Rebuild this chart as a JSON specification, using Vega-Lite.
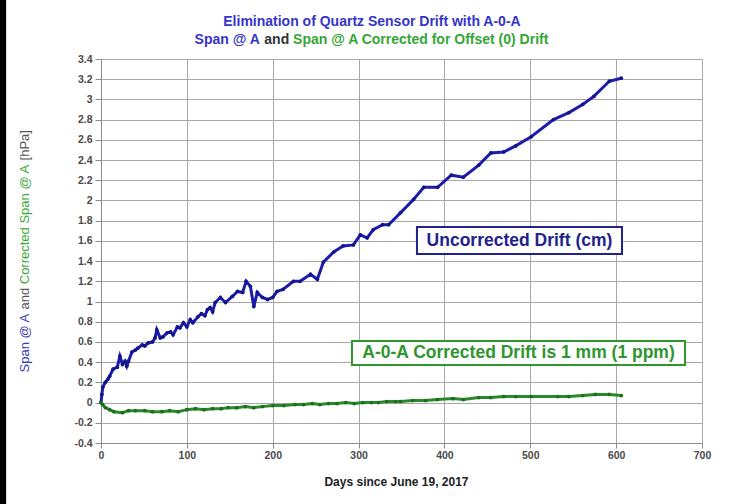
{
  "$schema": "https://vega.github.io/schema/vega-lite/v6.json",
  "width": 601,
  "height": 384,
  "autosize": {"type": "none"},
  "padding": {"left": 101, "top": 59, "right": 33, "bottom": 61},
  "background": "white",
  "config": {
    "font": "Liberation Sans",
    "view": {"stroke": "#8c8c8c", "strokeWidth": 1}
  },
  "resolve": {"axis": {"x": "independent", "y": "independent"}},
  "datasets": {
    "span": [
      {"day": 0, "value": 0}, {"day": 1, "value": 0.08}, {"day": 2, "value": 0.15}, {"day": 5, "value": 0.2},
      {"day": 8, "value": 0.23}, {"day": 10, "value": 0.26}, {"day": 14, "value": 0.33}, {"day": 19, "value": 0.35},
      {"day": 22, "value": 0.46}, {"day": 25, "value": 0.38}, {"day": 28, "value": 0.41}, {"day": 30, "value": 0.36},
      {"day": 32, "value": 0.41}, {"day": 36, "value": 0.5}, {"day": 40, "value": 0.52}, {"day": 43, "value": 0.54},
      {"day": 48, "value": 0.57}, {"day": 51, "value": 0.56}, {"day": 55, "value": 0.59}, {"day": 60, "value": 0.6},
      {"day": 63, "value": 0.64}, {"day": 65, "value": 0.72}, {"day": 69, "value": 0.64}, {"day": 72, "value": 0.65},
      {"day": 77, "value": 0.69}, {"day": 81, "value": 0.7}, {"day": 84, "value": 0.67}, {"day": 89, "value": 0.75},
      {"day": 92, "value": 0.74}, {"day": 96, "value": 0.79}, {"day": 100, "value": 0.75}, {"day": 104, "value": 0.82},
      {"day": 107, "value": 0.79}, {"day": 113, "value": 0.85}, {"day": 117, "value": 0.88}, {"day": 121, "value": 0.86},
      {"day": 124, "value": 0.92}, {"day": 127, "value": 0.94}, {"day": 130, "value": 0.9}, {"day": 133, "value": 0.99},
      {"day": 139, "value": 1.04}, {"day": 145, "value": 0.99}, {"day": 153, "value": 1.05}, {"day": 159, "value": 1.1},
      {"day": 165, "value": 1.09}, {"day": 169, "value": 1.2}, {"day": 174, "value": 1.15}, {"day": 178, "value": 0.95},
      {"day": 182, "value": 1.09}, {"day": 188, "value": 1.04}, {"day": 194, "value": 1.02}, {"day": 200, "value": 1.04},
      {"day": 205, "value": 1.1}, {"day": 212, "value": 1.12}, {"day": 224, "value": 1.2}, {"day": 232, "value": 1.2},
      {"day": 244, "value": 1.27}, {"day": 252, "value": 1.22}, {"day": 259, "value": 1.39}, {"day": 271, "value": 1.49},
      {"day": 282, "value": 1.55}, {"day": 294, "value": 1.56}, {"day": 302, "value": 1.66}, {"day": 310, "value": 1.63},
      {"day": 317, "value": 1.71}, {"day": 328, "value": 1.76}, {"day": 335, "value": 1.76}, {"day": 349, "value": 1.88},
      {"day": 364, "value": 2.01}, {"day": 376, "value": 2.13}, {"day": 392, "value": 2.13}, {"day": 408, "value": 2.25},
      {"day": 422, "value": 2.23}, {"day": 440, "value": 2.35}, {"day": 454, "value": 2.47}, {"day": 469, "value": 2.48},
      {"day": 483, "value": 2.54}, {"day": 501, "value": 2.63}, {"day": 527, "value": 2.8}, {"day": 545, "value": 2.87},
      {"day": 561, "value": 2.95}, {"day": 574, "value": 3.03}, {"day": 592, "value": 3.18}, {"day": 606, "value": 3.21}
    ],
    "corrected": [
      {"day": 0, "value": 0}, {"day": 2, "value": -0.02}, {"day": 5, "value": -0.05}, {"day": 10, "value": -0.07},
      {"day": 15, "value": -0.09}, {"day": 25, "value": -0.1}, {"day": 32, "value": -0.08}, {"day": 40, "value": -0.08},
      {"day": 51, "value": -0.08}, {"day": 60, "value": -0.09}, {"day": 71, "value": -0.09}, {"day": 80, "value": -0.08},
      {"day": 90, "value": -0.09}, {"day": 100, "value": -0.07}, {"day": 110, "value": -0.06}, {"day": 120, "value": -0.07},
      {"day": 130, "value": -0.06}, {"day": 140, "value": -0.06}, {"day": 148, "value": -0.05}, {"day": 158, "value": -0.05},
      {"day": 168, "value": -0.04}, {"day": 178, "value": -0.05}, {"day": 188, "value": -0.04}, {"day": 200, "value": -0.03},
      {"day": 213, "value": -0.03}, {"day": 226, "value": -0.02}, {"day": 236, "value": -0.02}, {"day": 246, "value": -0.01},
      {"day": 255, "value": -0.02}, {"day": 265, "value": -0.01}, {"day": 275, "value": -0.01}, {"day": 285, "value": 0},
      {"day": 295, "value": -0.01}, {"day": 305, "value": 0}, {"day": 315, "value": 0}, {"day": 323, "value": 0},
      {"day": 333, "value": 0.01}, {"day": 343, "value": 0.01}, {"day": 349, "value": 0.01}, {"day": 363, "value": 0.02},
      {"day": 378, "value": 0.02}, {"day": 392, "value": 0.03}, {"day": 410, "value": 0.04}, {"day": 422, "value": 0.03},
      {"day": 440, "value": 0.05}, {"day": 454, "value": 0.05}, {"day": 469, "value": 0.06}, {"day": 483, "value": 0.06},
      {"day": 501, "value": 0.06}, {"day": 532, "value": 0.06}, {"day": 545, "value": 0.06}, {"day": 561, "value": 0.07},
      {"day": 576, "value": 0.08}, {"day": 592, "value": 0.08}, {"day": 606, "value": 0.07}
    ]
  },
  "layer": [
    {
      "data": {"name": "span"},
      "mark": {"type": "line", "color": "#1c1cab", "strokeWidth": 3, "point": {"filled": true, "size": 14, "color": "#14148a"}},
      "encoding": {
        "x": {
          "field": "day", "type": "quantitative",
          "scale": {"domain": [0, 700], "nice": false, "zero": false},
          "axis": {
            "values": [0, 100, 200, 300, 400, 500, 600, 700],
            "title": "Days since June 19, 2017",
            "titleFont": "Liberation Sans", "titleFontWeight": "bold", "titleFontSize": 12, "titleColor": "#222",
            "titleX": 295, "titleY": 38, "titleBaseline": "middle",
            "grid": true, "gridColor": "#a8a8a8", "gridWidth": 1,
            "domainColor": "#8c8c8c", "tickColor": "#8c8c8c", "tickSize": 5,
            "labelFlush": false, "labelOverlap": false,
            "labelFontSize": 10.5, "labelFontWeight": "bold", "labelColor": "#4a4a4a", "labelPadding": 2
          }
        },
        "y": {
          "field": "value", "type": "quantitative",
          "scale": {"domain": [-0.4, 3.4], "nice": false, "zero": false},
          "axis": {
            "values": [-0.4, -0.2, 0, 0.2, 0.4, 0.6, 0.8, 1, 1.2, 1.4, 1.6, 1.8, 2, 2.2, 2.4, 2.6, 2.8, 3, 3.2, 3.4],
            "labelExpr": "replace(format(datum.value, '.2~f'), '−', '-')",
            "title": null,
            "grid": true, "gridColor": "#a8a8a8", "gridWidth": 1,
            "domainColor": "#8c8c8c", "tickColor": "#8c8c8c", "tickSize": 6,
            "labelFlush": false, "labelOverlap": false,
            "labelFontSize": 10.5, "labelFontWeight": "bold", "labelColor": "#4a4a4a", "labelPadding": 3
          }
        }
      }
    },
    {
      "data": {"name": "corrected"},
      "mark": {"type": "line", "color": "#2a8a2a", "strokeWidth": 3, "point": {"filled": true, "size": 14, "color": "#1f6e1f"}},
      "encoding": {
        "x": {"field": "day", "type": "quantitative", "axis": null},
        "y": {"field": "value", "type": "quantitative", "axis": null}
      }
    },
    {
      "data": {"values": [{}]},
      "mark": {"type": "rect", "fill": "white", "stroke": "#22228f", "strokeWidth": 2},
      "encoding": {
        "x": {"datum": 368, "type": "quantitative", "axis": null},
        "x2": {"datum": 606.8},
        "y": {"datum": 1.7375, "type": "quantitative", "axis": null},
        "y2": {"datum": 1.47}
      }
    },
    {
      "data": {"values": [{}]},
      "mark": {"type": "text", "fontSize": 17.5, "fontWeight": "bold", "color": "#22228f", "align": "center", "baseline": "middle"},
      "encoding": {
        "x": {"datum": 487.4, "type": "quantitative", "axis": null},
        "y": {"datum": 1.599, "type": "quantitative", "axis": null},
        "text": {"value": "Uncorrected Drift (cm)"}
      }
    },
    {
      "data": {"values": [{}]},
      "mark": {"type": "rect", "fill": "white", "stroke": "#2e962e", "strokeWidth": 2},
      "encoding": {
        "x": {"datum": 292.3, "type": "quantitative", "axis": null},
        "x2": {"datum": 680.2},
        "y": {"datum": 0.609, "type": "quantitative", "axis": null},
        "y2": {"datum": 0.372}
      }
    },
    {
      "data": {"values": [{}]},
      "mark": {"type": "text", "fontSize": 17.5, "fontWeight": "bold", "color": "#2e962e", "align": "center", "baseline": "middle"},
      "encoding": {
        "x": {"datum": 486.3, "type": "quantitative", "axis": null},
        "y": {"datum": 0.491, "type": "quantitative", "axis": null},
        "text": {"value": "A-0-A Corrected Drift is 1 mm (1 ppm)"}
      }
    },
    {
      "data": {"values": [{}]},
      "mark": {"type": "text", "fontSize": 14, "fontWeight": "bold", "color": "#3535c8", "align": "center", "baseline": "middle"},
      "encoding": {
        "x": {"datum": 315.6, "type": "quantitative", "axis": null},
        "y": {"datum": 3.766, "type": "quantitative", "axis": null},
        "text": {"value": "Elimination of Quartz Sensor Drift with A-0-A"}
      }
    },
    {
      "data": {"values": [{}]},
      "mark": {"type": "text", "fontSize": 14, "fontWeight": "bold", "color": "#3535c8", "align": "left", "baseline": "middle"},
      "encoding": {
        "x": {"datum": 109.0, "type": "quantitative", "axis": null},
        "y": {"datum": 3.588, "type": "quantitative", "axis": null},
        "text": {"value": "Span @ A"}
      }
    },
    {
      "data": {"values": [{}]},
      "mark": {"type": "text", "fontSize": 14, "fontWeight": "bold", "color": "#333333", "align": "left", "baseline": "middle"},
      "encoding": {
        "x": {"datum": 190.2, "type": "quantitative", "axis": null},
        "y": {"datum": 3.588, "type": "quantitative", "axis": null},
        "text": {"value": "and"}
      }
    },
    {
      "data": {"values": [{}]},
      "mark": {"type": "text", "fontSize": 14, "fontWeight": "bold", "color": "#35a535", "align": "left", "baseline": "middle"},
      "encoding": {
        "x": {"datum": 223.7, "type": "quantitative", "axis": null},
        "y": {"datum": 3.588, "type": "quantitative", "axis": null},
        "text": {"value": "Span @ A Corrected for Offset (0) Drift"}
      }
    },
    {
      "data": {"values": [{}]},
      "mark": {"type": "text", "fontSize": 13, "angle": 270, "color": "#3a3ab8", "align": "left", "baseline": "middle"},
      "encoding": {
        "x": {"datum": -88.5, "type": "quantitative", "axis": null},
        "y": {"datum": 0.298, "type": "quantitative", "axis": null},
        "text": {"value": "Span @ A"}
      }
    },
    {
      "data": {"values": [{}]},
      "mark": {"type": "text", "fontSize": 13, "angle": 270, "color": "#555555", "align": "left", "baseline": "middle"},
      "encoding": {
        "x": {"datum": -88.5, "type": "quantitative", "axis": null},
        "y": {"datum": 0.921, "type": "quantitative", "axis": null},
        "text": {"value": "and"}
      }
    },
    {
      "data": {"values": [{}]},
      "mark": {"type": "text", "fontSize": 13, "angle": 270, "color": "#3aa83a", "align": "left", "baseline": "middle"},
      "encoding": {
        "x": {"datum": -88.5, "type": "quantitative", "axis": null},
        "y": {"datum": 1.171, "type": "quantitative", "axis": null},
        "text": {"value": "Corrected Span @ A"}
      }
    },
    {
      "data": {"values": [{}]},
      "mark": {"type": "text", "fontSize": 13, "angle": 270, "color": "#555555", "align": "left", "baseline": "middle"},
      "encoding": {
        "x": {"datum": -88.5, "type": "quantitative", "axis": null},
        "y": {"datum": 2.396, "type": "quantitative", "axis": null},
        "text": {"value": "[hPa]"}
      }
    },
    {
      "data": {"values": [{}]},
      "mark": {"type": "rect", "fill": "black"},
      "encoding": {
        "x": {"datum": -125, "type": "quantitative", "axis": null},
        "x2": {"datum": -110.5},
        "y": {"datum": -1.2, "type": "quantitative", "axis": null},
        "y2": {"datum": 4.1}
      }
    }
  ]
}
